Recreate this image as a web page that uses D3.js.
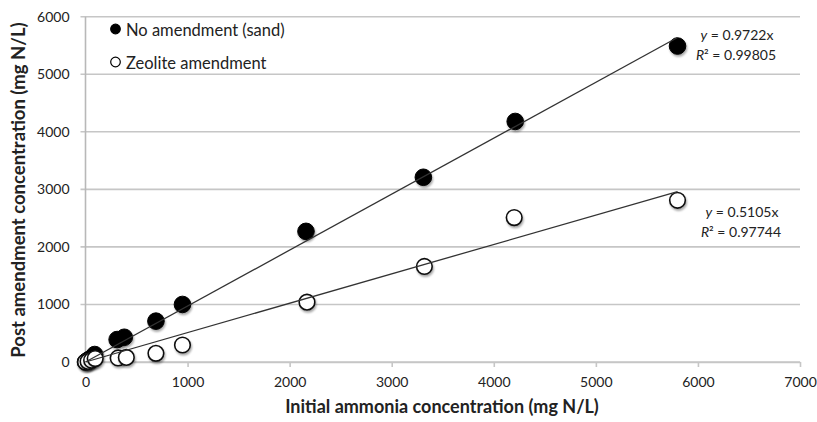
<!DOCTYPE html>
<html>
<head>
  <meta charset="utf-8">
  <title>Ammonia removal by zeolite amendment</title>
  <script src="https://cdn.jsdelivr.net/npm/d3@7"></script>
  <style>
    body { margin: 0; background: #fff; }
    text { font-family: Lato, "Open Sans", sans-serif; fill: #222; }
  </style>
</head>
<body>
<script>
  // values
  var sandX = [0, 15, 40, 90, 310, 380, 690, 950, 2160, 3310, 4210, 5800];
  var sandY = [0, 20, 50, 130, 390, 430, 710, 1000, 2270, 3210, 4180, 5490];
  var zeoX = [0, 25, 60, 95, 320, 400, 690, 950, 2170, 3320, 4200, 5800];
  var zeoY = [0, 10, 30, 60, 70, 80, 150, 295, 1040, 1660, 2510, 2810];
  var slopes = [0.9722, 0.5105];
  var r2 = ["0.99805", "0.97744"];
  var xTicks = [0, 1000, 2000, 3000, 4000, 5000, 6000, 7000];
  var yTicks = [0, 1000, 2000, 3000, 4000, 5000, 6000];
  var legendNames = ["No amendment (sand)", "Zeolite amendment"];

  var W = 817, H = 422;
  var pLeft = 85.5, pRight = 800, pTop = 16.7, pBottom = 362;

  var svg = d3.select("body").append("svg")
    .attr("width", W).attr("height", H);

  var x = d3.scaleLinear().domain([0, 7000]).range([pLeft, pRight]);
  var y = d3.scaleLinear().domain([0, 6000]).range([pBottom, pTop]);

  // gridlines (with the little tick stubs left of the axis)
  svg.append("g").selectAll("line")
    .data(yTicks).enter().append("line")
    .attr("x1", pLeft - 5).attr("x2", pRight)
    .attr("y1", function (d) { return y(d); })
    .attr("y2", function (d) { return y(d); })
    .attr("stroke", "#c6c6c6").attr("stroke-width", 1.6);

  // y axis line
  svg.append("line")
    .attr("x1", pLeft).attr("x2", pLeft).attr("y1", pTop).attr("y2", pBottom)
    .attr("stroke", "#b8b8b8").attr("stroke-width", 1.6);

  // x axis
  var xAxis = svg.append("g")
    .attr("transform", "translate(0," + pBottom + ")")
    .call(d3.axisBottom(x).tickValues(xTicks).tickFormat(d3.format("d"))
      .tickSize(5).tickPadding(10).tickSizeOuter(0));
  xAxis.select(".domain").attr("stroke", "#c6c6c6").attr("stroke-width", 1.6);
  xAxis.selectAll(".tick line").attr("stroke", "#c6c6c6").attr("stroke-width", 1.6);
  xAxis.selectAll("text").style("font-size", "14px").attr("fill", "#222")
    .style("font-family", "Lato, sans-serif");

  // y labels
  var yAxis = svg.append("g")
    .attr("transform", "translate(" + pLeft + ",0)")
    .call(d3.axisLeft(y).tickValues(yTicks).tickFormat(d3.format("d"))
      .tickSize(0).tickPadding(16));
  yAxis.select(".domain").remove();
  yAxis.selectAll("text").style("font-size", "14px").attr("fill", "#222")
    .style("font-family", "Lato, sans-serif");

  // axis titles
  svg.append("text")
    .attr("x", 442).attr("y", 413)
    .attr("text-anchor", "middle")
    .style("font-size", "18px").style("font-weight", "bold")
    .text("Initial ammonia concentration (mg N/L)");

  svg.append("text")
    .attr("transform", "translate(25,190) rotate(-90)")
    .attr("text-anchor", "middle")
    .style("font-size", "18.5px").style("font-weight", "bold")
    .text("Post amendment concentration (mg N/L)");

  // soft shadow like the spreadsheet markers
  var f = svg.append("defs").append("filter").attr("id", "sh")
    .attr("x", "-50%").attr("y", "-50%").attr("width", "200%").attr("height", "200%");
  f.append("feGaussianBlur").attr("in", "SourceAlpha").attr("stdDeviation", 1.2).attr("result", "b");
  f.append("feOffset").attr("in", "b").attr("dx", 1).attr("dy", 1.5).attr("result", "o");
  f.append("feComponentTransfer").attr("in", "o").attr("result", "s")
    .append("feFuncA").attr("type", "linear").attr("slope", 0.35);
  var m = f.append("feMerge");
  m.append("feMergeNode").attr("in", "s");
  m.append("feMergeNode").attr("in", "SourceGraphic");

  var sand = sandX.map(function (v, i) { return [v, sandY[i]]; });
  var zeo = zeoX.map(function (v, i) { return [v, zeoY[i]]; });

  svg.append("g").selectAll("circle").data(sand).enter().append("circle")
    .attr("cx", function (d) { return x(d[0]); })
    .attr("cy", function (d) { return y(d[1]); })
    .attr("r", 8.3).attr("fill", "#000").attr("stroke", "#000").attr("stroke-width", 1)
    .attr("filter", "url(#sh)");

  svg.append("g").selectAll("circle").data(zeo).enter().append("circle")
    .attr("cx", function (d) { return x(d[0]); })
    .attr("cy", function (d) { return y(d[1]); })
    .attr("r", 7.8).attr("fill", "#fff").attr("stroke", "#111").attr("stroke-width", 1.6)
    .attr("filter", "url(#sh)");

  // linear trendlines through origin
  slopes.forEach(function (s) {
    svg.append("line")
      .attr("x1", x(0)).attr("y1", y(0))
      .attr("x2", x(5800)).attr("y2", y(5800 * s))
      .attr("stroke", "#333").attr("stroke-width", 1.3);
  });

  // equations
  var eqPos = [[737, 40], [742, 217]];
  slopes.forEach(function (s, i) {
    var t1 = svg.append("text")
      .attr("x", eqPos[i][0]).attr("y", eqPos[i][1])
      .attr("text-anchor", "middle").style("font-size", "14px");
    t1.append("tspan").style("font-style", "italic").text("y");
    t1.append("tspan").text(" = " + s + "x");
    var t2 = svg.append("text")
      .attr("x", eqPos[i][0] - 1).attr("y", eqPos[i][1] + 19.5)
      .attr("text-anchor", "middle").style("font-size", "14px");
    t2.append("tspan").style("font-style", "italic").text("R");
    t2.append("tspan").text("\u00b2 = " + r2[i]);
  });

  // legend
  var leg = svg.append("g");
  legendNames.forEach(function (name, i) {
    var cy = 29 + i * 33;
    leg.append("circle").attr("cx", 115.5).attr("cy", cy).attr("r", 4.8)
      .attr("fill", i === 0 ? "#000" : "#fff").attr("stroke", "#000").attr("stroke-width", 1.2);
    leg.append("text").attr("x", 126).attr("y", cy + 7)
      .style("font-size", "16.5px").text(name);
  });
</script>
</body>
</html>
